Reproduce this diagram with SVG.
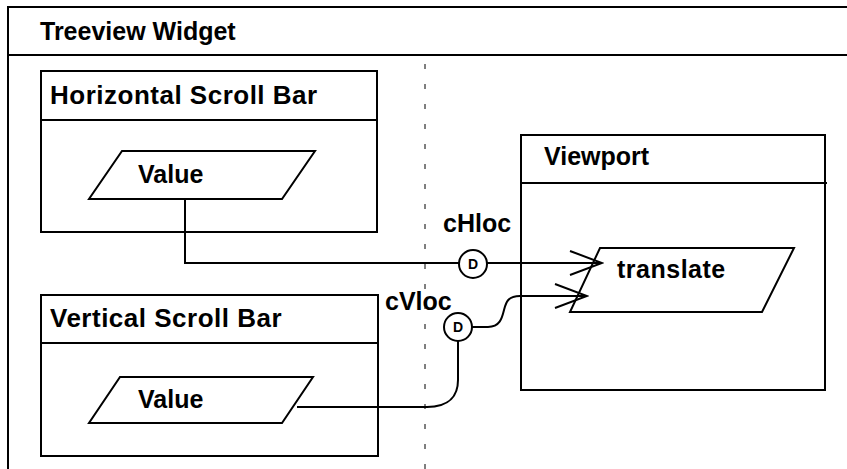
<svg xmlns="http://www.w3.org/2000/svg" width="847" height="469" viewBox="0 0 847 469">
<defs>
<style>
.ln{fill:none;stroke:#000;stroke-width:2}
.box{fill:#fff;stroke:#000;stroke-width:2}
.t{font-family:"Liberation Sans",Arial,sans-serif;font-weight:bold;font-size:25px;fill:#000}
.h{font-size:26px;letter-spacing:0.5px}
.d{font-family:"Liberation Sans",Arial,sans-serif;font-weight:bold;font-size:14px;fill:#000;text-anchor:middle}
.dash{fill:none;stroke:#000;stroke-width:1;stroke-dasharray:5 15}
</style>
<marker id="arr" markerUnits="userSpaceOnUse" viewBox="-34 -14 36 28" refX="0" refY="0" markerWidth="36" markerHeight="28" orient="auto">
<path d="M-32,-12 L0,0 L-32,12" fill="none" stroke="#000" stroke-width="2"/>
</marker>
</defs>
<rect width="847" height="469" fill="#fff"/>
<g id="treeview">
<path class="ln" d="M8,469 L8,7 L847,7 M8,55 L847,55"/>
<text class="t" x="40" y="40">Treeview Widget</text>
<line class="dash" x1="425" y1="64" x2="425" y2="469"/>
</g>
<g id="hscroll">
<rect class="box" x="41" y="71" width="336" height="161"/>
<line class="ln" x1="41" y1="120" x2="377" y2="120"/>
<text class="t h" x="50" y="104">Horizontal Scroll Bar</text>
<g id="hvalue">
<polygon class="box" points="122,151 315,151 282,199 89,199"/>
<text class="t" x="138" y="183">Value</text>
</g>
</g>
<g id="vscroll">
<rect class="box" x="41" y="295" width="337" height="161"/>
<line class="ln" x1="41" y1="343" x2="378" y2="343"/>
<text class="t h" x="50" y="327">Vertical Scroll Bar</text>
<g id="vvalue">
<polygon class="box" points="120,377 313,377 282,423 89,423"/>
<text class="t" x="138" y="408">Value</text>
</g>
</g>
<g id="viewport">
<rect class="box" x="521" y="135" width="304" height="255"/>
<line class="ln" x1="521" y1="183" x2="827" y2="183"/>
<text class="t" x="544" y="165">Viewport</text>
<g id="translate">
<polygon class="box" points="600,248 794,248 762,312 570,312"/>
<text class="t" x="617" y="278" style="letter-spacing:0.5px">translate</text>
</g>
</g>
<g id="connectors">
<path class="ln" d="M185,199 L185,263 L602,263" marker-end="url(#arr)"/>
<path class="ln" d="M297,407 L427,407 C450,407 458,395 458,380 L458,341"/>
<path class="ln" d="M472,327 L488,327 C500,327 502,318 504,310 C506,302 508,296 520,296 L587,296" marker-end="url(#arr)"/>
<g id="dH">
<circle class="box" cx="473" cy="264" r="14"/>
<text class="d" x="473" y="269">D</text>
</g>
<g id="dV">
<circle class="box" cx="458" cy="327" r="14"/>
<text class="d" x="458" y="332">D</text>
</g>
<text class="t" x="443" y="232">cHloc</text>
<text class="t" x="385" y="310">cVloc</text>
</g>
</svg>
